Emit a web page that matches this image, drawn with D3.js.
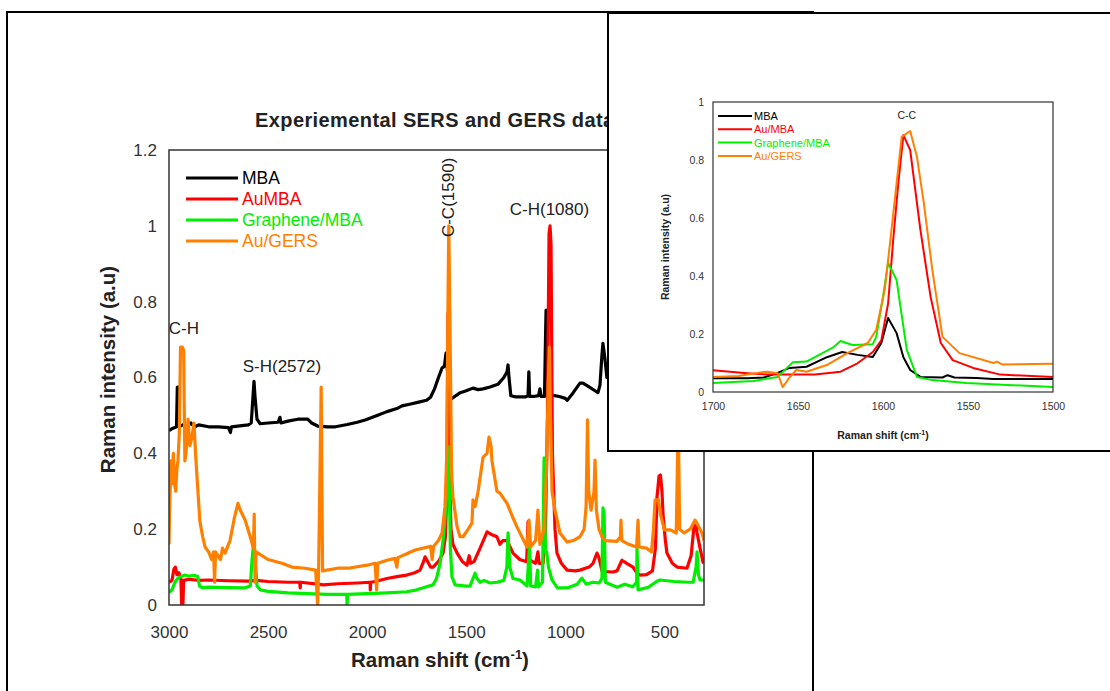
<!DOCTYPE html>
<html><head><meta charset="utf-8">
<script src="https://cdn.jsdelivr.net/npm/d3@7"></script>
<style>
body{margin:0;background:#fff}
svg{display:block}
text{font-family:Arial,"Liberation Sans",sans-serif}
</style></head>
<body><svg id="c" width="1110" height="691"></svg>
<script>
// ---------- DATA ----------
const seriesNames = ["MBA", "AuMBA", "Graphene/MBA", "Au/GERS"];
const insetNames = ["MBA", "Au/MBA", "Graphene/MBA", "Au/GERS"];
const seriesColors = ["#000000", "#ff0000", "#00ee00", "#ff8000"];

const mainXTicks = [3000, 2500, 2000, 1500, 1000, 500];
const mainYTicks = [0, 0.2, 0.4, 0.6, 0.8, 1, 1.2];
const insetXTicks = [1700, 1650, 1600, 1550, 1500];
const insetYTicks = [0, 0.2, 0.4, 0.6, 0.8, 1];

// [Raman shift (cm-1), intensity]
const mainMBA = [[3000,0.46],[2985,0.465],[2962,0.47],[2958,0.575],[2953,0.575],[2950,0.47],[2930,0.475],[2910,0.47],[2890,0.48],[2870,0.47],[2850,0.475],[2800,0.47],[2750,0.47],[2700,0.468],[2690,0.455],[2685,0.47],[2600,0.475],[2585,0.48],[2576,0.55],[2571,0.59],[2566,0.55],[2556,0.49],[2540,0.478],[2500,0.48],[2450,0.482],[2440,0.495],[2435,0.48],[2400,0.485],[2350,0.49],[2300,0.49],[2280,0.48],[2250,0.472],[2200,0.47],[2160,0.47],[2100,0.476],[2050,0.482],[2010,0.488],[1950,0.5],[1900,0.51],[1850,0.518],[1824,0.525],[1780,0.53],[1740,0.535],[1700,0.54],[1680,0.548],[1660,0.57],[1640,0.6],[1622,0.625],[1610,0.63],[1602,0.664],[1595,0.62],[1590,0.6],[1584,0.55],[1570,0.545],[1550,0.553],[1530,0.56],[1500,0.565],[1466,0.572],[1440,0.568],[1415,0.57],[1380,0.575],[1340,0.582],[1310,0.6],[1294,0.615],[1289,0.633],[1284,0.6],[1275,0.552],[1250,0.549],[1200,0.549],[1188,0.552],[1184,0.615],[1180,0.55],[1160,0.55],[1135,0.552],[1128,0.57],[1122,0.55],[1105,0.55],[1100,0.7],[1097,0.778],[1093,0.7],[1088,0.6],[1080,0.57],[1070,0.555],[1062,0.553],[1030,0.55],[1000,0.545],[990,0.54],[960,0.56],[926,0.585],[911,0.585],[880,0.575],[850,0.565],[835,0.56],[825,0.58],[815,0.66],[810,0.69],[805,0.67],[800,0.65],[790,0.6],[770,0.6],[700,0.6],[600,0.6],[500,0.62],[400,0.6],[300,0.6]];

const mainAuMBA = [[3000,0.06],[2985,0.065],[2975,0.095],[2968,0.1],[2960,0.08],[2950,0.085],[2940,0.07],[2936,0.0],[2930,0.0],[2926,0.065],[2900,0.068],[2850,0.065],[2800,0.066],[2700,0.064],[2600,0.063],[2560,0.065],[2500,0.062],[2400,0.06],[2340,0.06],[2338,0.045],[2336,0.06],[2250,0.055],[2222,0.053],[2150,0.056],[2050,0.058],[1985,0.06],[1984,0.04],[1982,0.06],[1960,0.062],[1900,0.07],[1850,0.075],[1800,0.079],[1760,0.085],[1733,0.092],[1715,0.115],[1708,0.127],[1695,0.115],[1680,0.1],[1667,0.1],[1640,0.115],[1617,0.137],[1605,0.18],[1598,0.3],[1592,0.77],[1588,0.55],[1584,0.35],[1577,0.2],[1567,0.16],[1546,0.137],[1520,0.115],[1496,0.105],[1485,0.13],[1478,0.11],[1460,0.115],[1430,0.15],[1395,0.193],[1370,0.185],[1345,0.18],[1330,0.16],[1315,0.17],[1294,0.17],[1264,0.137],[1230,0.12],[1195,0.114],[1188,0.22],[1184,0.12],[1150,0.11],[1138,0.14],[1132,0.11],[1112,0.11],[1100,0.2],[1090,0.5],[1082,0.98],[1077,1.0],[1072,0.95],[1065,0.4],[1052,0.2],[1042,0.137],[1020,0.11],[991,0.092],[950,0.09],[926,0.092],[880,0.1],[860,0.11],[840,0.137],[830,0.125],[815,0.09],[800,0.088],[760,0.087],[739,0.09],[714,0.118],[690,0.11],[658,0.1],[640,0.085],[623,0.079],[590,0.08],[560,0.09],[545,0.15],[537,0.285],[527,0.34],[520,0.343],[512,0.3],[507,0.24],[495,0.17],[487,0.137],[460,0.11],[436,0.1],[386,0.097],[365,0.13],[350,0.21],[342,0.216],[335,0.19],[320,0.15],[305,0.113],[300,0.11]];

const mainGraphene = [[3000,0.034],[2985,0.04],[2970,0.06],[2955,0.071],[2940,0.075],[2919,0.079],[2900,0.076],[2870,0.078],[2855,0.075],[2846,0.05],[2830,0.045],[2800,0.047],[2700,0.046],[2620,0.045],[2590,0.05],[2581,0.118],[2572,0.17],[2562,0.1],[2556,0.05],[2540,0.04],[2500,0.036],[2400,0.032],[2300,0.03],[2200,0.028],[2103,0.028],[2101,0.0],[2099,0.028],[2000,0.03],[1900,0.032],[1800,0.035],[1750,0.04],[1700,0.048],[1668,0.053],[1650,0.07],[1632,0.11],[1617,0.17],[1602,0.26],[1590,0.417],[1585,0.3],[1580,0.15],[1572,0.074],[1556,0.053],[1500,0.05],[1481,0.05],[1455,0.084],[1446,0.07],[1430,0.06],[1410,0.065],[1380,0.058],[1345,0.06],[1310,0.065],[1295,0.1],[1289,0.19],[1280,0.1],[1264,0.07],[1229,0.066],[1193,0.05],[1180,0.163],[1175,0.05],[1150,0.048],[1140,0.092],[1135,0.048],[1115,0.06],[1107,0.388],[1100,0.14],[1094,0.14],[1085,0.1],[1067,0.066],[1040,0.045],[990,0.045],[940,0.055],[916,0.071],[895,0.055],[860,0.06],[830,0.058],[815,0.07],[810,0.256],[804,0.24],[798,0.06],[739,0.047],[700,0.055],[660,0.048],[640,0.06],[638,0.153],[633,0.04],[580,0.047],[540,0.062],[522,0.066],[450,0.062],[380,0.06],[355,0.06],[340,0.1],[335,0.14],[328,0.08],[320,0.066],[300,0.066]];

const mainAuGERS = [[3000,0.16],[2997,0.25],[2990,0.38],[2985,0.32],[2978,0.4],[2972,0.32],[2966,0.3],[2960,0.36],[2955,0.38],[2948,0.45],[2942,0.68],[2932,0.68],[2926,0.67],[2920,0.38],[2914,0.4],[2904,0.49],[2895,0.42],[2885,0.44],[2874,0.48],[2866,0.4],[2859,0.34],[2844,0.22],[2830,0.18],[2818,0.153],[2800,0.14],[2785,0.12],[2775,0.14],[2770,0.06],[2765,0.14],[2740,0.12],[2730,0.15],[2717,0.137],[2700,0.16],[2692,0.17],[2670,0.23],[2652,0.268],[2640,0.25],[2616,0.224],[2590,0.18],[2581,0.163],[2574,0.15],[2570,0.24],[2566,0.06],[2560,0.14],[2551,0.137],[2500,0.12],[2430,0.11],[2380,0.1],[2314,0.097],[2260,0.092],[2250,0.0],[2245,0.09],[2232,0.575],[2225,0.09],[2150,0.097],[2097,0.097],[2000,0.105],[1960,0.11],[1952,0.04],[1946,0.11],[1900,0.118],[1860,0.123],[1850,0.1],[1845,0.125],[1800,0.135],[1758,0.145],[1700,0.152],[1680,0.155],[1672,0.12],[1665,0.155],[1640,0.17],[1622,0.19],[1607,0.26],[1598,0.4],[1592,0.8],[1588,1.0],[1584,0.83],[1579,0.6],[1574,0.35],[1567,0.285],[1546,0.206],[1531,0.18],[1516,0.18],[1490,0.2],[1471,0.216],[1466,0.277],[1455,0.26],[1440,0.3],[1415,0.39],[1395,0.4],[1385,0.443],[1375,0.42],[1370,0.38],[1345,0.3],[1330,0.295],[1294,0.268],[1264,0.23],[1244,0.206],[1210,0.17],[1193,0.153],[1183,0.224],[1175,0.153],[1150,0.17],[1138,0.25],[1128,0.16],[1107,0.2],[1095,0.356],[1085,0.6],[1080,0.68],[1075,0.5],[1067,0.3],[1052,0.25],[1027,0.19],[991,0.166],[960,0.17],[926,0.18],[905,0.2],[895,0.26],[888,0.488],[882,0.3],[870,0.25],[855,0.3],[850,0.382],[843,0.25],[830,0.2],[815,0.18],[800,0.17],[739,0.168],[722,0.18],[719,0.224],[715,0.17],[680,0.16],[640,0.153],[633,0.224],[628,0.153],[590,0.15],[565,0.14],[555,0.2],[547,0.277],[530,0.277],[520,0.24],[500,0.198],[470,0.198],[440,0.19],[430,0.5],[423,0.2],[400,0.19],[370,0.2],[345,0.224],[330,0.21],[310,0.19],[300,0.17]];

const insetMBA = [[1700,0.047],[1680,0.047],[1670,0.05],[1662,0.066],[1655,0.083],[1645,0.087],[1633,0.12],[1624,0.138],[1615,0.128],[1606,0.121],[1601,0.169],[1597,0.255],[1592,0.203],[1588,0.12],[1584,0.076],[1578,0.052],[1565,0.05],[1562,0.058],[1558,0.05],[1545,0.048],[1535,0.045],[1500,0.045]];
const insetAuMBA = [[1700,0.075],[1690,0.07],[1680,0.065],[1668,0.06],[1640,0.06],[1625,0.07],[1615,0.099],[1606,0.138],[1601,0.178],[1597,0.305],[1594,0.524],[1591,0.72],[1588,0.886],[1584,0.834],[1578,0.559],[1572,0.328],[1566,0.169],[1559,0.11],[1547,0.083],[1531,0.06],[1500,0.052]];
const insetGraphene = [[1700,0.031],[1676,0.038],[1662,0.052],[1653,0.103],[1645,0.105],[1629,0.155],[1625,0.176],[1618,0.162],[1606,0.165],[1604,0.19],[1600,0.328],[1597,0.445],[1592,0.386],[1590,0.305],[1586,0.145],[1580,0.052],[1571,0.041],[1551,0.031],[1500,0.017]];
const insetAuGERS = [[1700,0.052],[1685,0.055],[1675,0.065],[1668,0.07],[1662,0.065],[1659,0.017],[1655,0.05],[1651,0.076],[1645,0.07],[1633,0.093],[1621,0.134],[1609,0.169],[1604,0.214],[1599,0.352],[1595,0.559],[1592,0.72],[1589,0.88],[1584,0.9],[1580,0.81],[1576,0.652],[1571,0.421],[1565,0.19],[1555,0.134],[1535,0.1],[1533,0.105],[1530,0.095],[1500,0.097]];

const mainAnnotations = [
  {label:"C-H", x:2925, y:0.73, rot:false},
  {label:"S-H(2572)", x:2430, y:0.63, rot:false},
  {label:"C-C(1590)", x:1590, y:1.075, rot:true},
  {label:"C-H(1080)", x:1080, y:1.045, rot:false}
];

// ---------- DRAW ----------
const svg = d3.select("#c");
const ink = "#222";

// outer frame of the main figure
svg.append("rect").attr("x",7).attr("y",12).attr("width",806).attr("height",700)
  .attr("fill","#fff").attr("stroke","#000").attr("stroke-width",2);

// main chart
const M = {l:169, r:704, t:150, b:605};
const x = d3.scaleLinear().domain([3000,300]).range([M.l,M.r]);
const y = d3.scaleLinear().domain([0,1.2]).range([M.b,M.t]);

svg.append("clipPath").attr("id","mclip").append("rect")
  .attr("x",M.l).attr("y",M.t-2).attr("width",M.r-M.l).attr("height",M.b-M.t+2);

svg.append("text").attr("x",255).attr("y",127).attr("text-anchor","start")
  .attr("font-size",20).attr("letter-spacing",0.4).attr("font-weight","bold").attr("fill",ink)
  .text("Experiemental SERS and GERS data");

const gx = svg.append("g").attr("transform",`translate(0,${M.b})`)
  .call(d3.axisBottom(x).tickValues(mainXTicks).tickSize(0).tickPadding(21).tickFormat(d=>String(d)));
gx.select(".domain").remove();
gx.selectAll("text").attr("font-size",17).attr("fill","#333").style("font-family","Arial,'Liberation Sans',sans-serif");

const gy = svg.append("g").attr("transform",`translate(${M.l},0)`)
  .call(d3.axisLeft(y).tickValues(mainYTicks).tickSize(0).tickPadding(12).tickFormat(d=>String(d)));
gy.select(".domain").remove();
gy.selectAll("text").attr("font-size",17).attr("fill","#333").style("font-family","Arial,'Liberation Sans',sans-serif");

const line = d3.line().x(d=>x(d[0])).y(d=>y(d[1]));
const mainSeries = [mainMBA, mainAuMBA, mainGraphene, mainAuGERS];
const mg = svg.append("g").attr("clip-path","url(#mclip)");
mainSeries.forEach((s,i)=>{
  mg.append("path").datum(s).attr("d",line).attr("fill","none")
    .attr("stroke",seriesColors[i]).attr("stroke-width",3.2).attr("stroke-linejoin","round");
});

svg.append("rect").attr("x",M.l).attr("y",M.t).attr("width",M.r-M.l).attr("height",M.b-M.t)
  .attr("fill","none").attr("stroke","#333").attr("stroke-width",1.5);

// axis titles
svg.append("text").attr("transform",`translate(115,${(M.t+M.b)/2-8}) rotate(-90)`)
  .attr("text-anchor","middle").attr("font-size",20.5).attr("font-weight","bold").attr("fill",ink)
  .text("Raman intensity (a.u)");
const xt = svg.append("text").attr("x",440).attr("y",667).attr("text-anchor","middle")
  .attr("font-size",20.5).attr("font-weight","bold").attr("fill",ink);
xt.append("tspan").text("Raman shift (cm");
xt.append("tspan").attr("dy",-8).attr("font-size",13).text("-1");
xt.append("tspan").attr("dy",8).text(")");

// legend
const leg = svg.append("g");
seriesNames.forEach((n,i)=>{
  const yy = 178 + i*21;
  leg.append("line").attr("x1",186).attr("x2",238).attr("y1",yy).attr("y2",yy)
    .attr("stroke",seriesColors[i]).attr("stroke-width",3);
  leg.append("text").attr("x",242).attr("y",yy+6).attr("font-size",17.5)
    .attr("fill",seriesColors[i]).text(n);
});

// annotations
mainAnnotations.forEach(a=>{
  const t = svg.append("text").attr("font-size",17).attr("fill",ink).text(a.label);
  if(a.rot){
    t.attr("transform",`translate(${x(a.x)},${y(a.y)}) rotate(-90)`).attr("text-anchor","middle").attr("dy","0.35em");
  } else {
    t.attr("x",x(a.x)).attr("y",y(a.y)).attr("text-anchor","middle").attr("dy","0.35em");
  }
});

// ---------- INSET ----------
svg.append("rect").attr("x",608).attr("y",13).attr("width",520).attr("height",438)
  .attr("fill","#fff").attr("stroke","#000").attr("stroke-width",2);

const I = {l:713, r:1053, t:102, b:392};
const xi = d3.scaleLinear().domain([1700,1500]).range([I.l,I.r]);
const yi = d3.scaleLinear().domain([0,1]).range([I.b,I.t]);

svg.append("clipPath").attr("id","iclip").append("rect")
  .attr("x",I.l).attr("y",I.t).attr("width",I.r-I.l).attr("height",I.b-I.t);

const gxi = svg.append("g").attr("transform",`translate(0,${I.b})`)
  .call(d3.axisBottom(xi).tickValues(insetXTicks).tickSize(0).tickPadding(11).tickFormat(d=>String(d)));
gxi.select(".domain").remove();
gxi.selectAll("text").attr("font-size",10.5).attr("fill","#333").style("font-family","Arial,'Liberation Sans',sans-serif");

const gyi = svg.append("g").attr("transform",`translate(${I.l},0)`)
  .call(d3.axisLeft(yi).tickValues(insetYTicks).tickSize(0).tickPadding(9).tickFormat(d=>String(d)));
gyi.select(".domain").remove();
gyi.selectAll("text").attr("font-size",10.5).attr("fill","#333").style("font-family","Arial,'Liberation Sans',sans-serif");

const linei = d3.line().x(d=>xi(d[0])).y(d=>yi(d[1]));
const insetSeries = [insetMBA, insetAuMBA, insetGraphene, insetAuGERS];
const ig = svg.append("g").attr("clip-path","url(#iclip)");
insetSeries.forEach((s,i)=>{
  ig.append("path").datum(s).attr("d",linei).attr("fill","none")
    .attr("stroke",seriesColors[i]).attr("stroke-width",2).attr("stroke-linejoin","round");
});

svg.append("rect").attr("x",I.l).attr("y",I.t).attr("width",I.r-I.l).attr("height",I.b-I.t)
  .attr("fill","none").attr("stroke","#333").attr("stroke-width",1.2);

svg.append("text").attr("transform",`translate(669,${(I.t+I.b)/2}) rotate(-90)`)
  .attr("text-anchor","middle").attr("font-size",10.5).attr("font-weight","bold").attr("fill",ink)
  .text("Raman intensity (a.u)");
const xti = svg.append("text").attr("x",883).attr("y",439).attr("text-anchor","middle")
  .attr("font-size",10.5).attr("font-weight","bold").attr("fill",ink);
xti.append("tspan").text("Raman shift (cm");
xti.append("tspan").attr("dy",-4).attr("font-size",7).text("-1");
xti.append("tspan").attr("dy",4).text(")");

const legi = svg.append("g");
insetNames.forEach((n,i)=>{
  const yy = 116 + i*13.3;
  legi.append("line").attr("x1",718).attr("x2",752).attr("y1",yy).attr("y2",yy)
    .attr("stroke",seriesColors[i]).attr("stroke-width",2);
  legi.append("text").attr("x",754).attr("y",yy+4).attr("font-size",11)
    .attr("fill",seriesColors[i]).text(n);
});

svg.append("text").attr("x",xi(1586)).attr("y",yi(0.94)).attr("text-anchor","middle")
  .attr("font-size",10.5).attr("fill",ink).text("C-C");
</script></body></html>
